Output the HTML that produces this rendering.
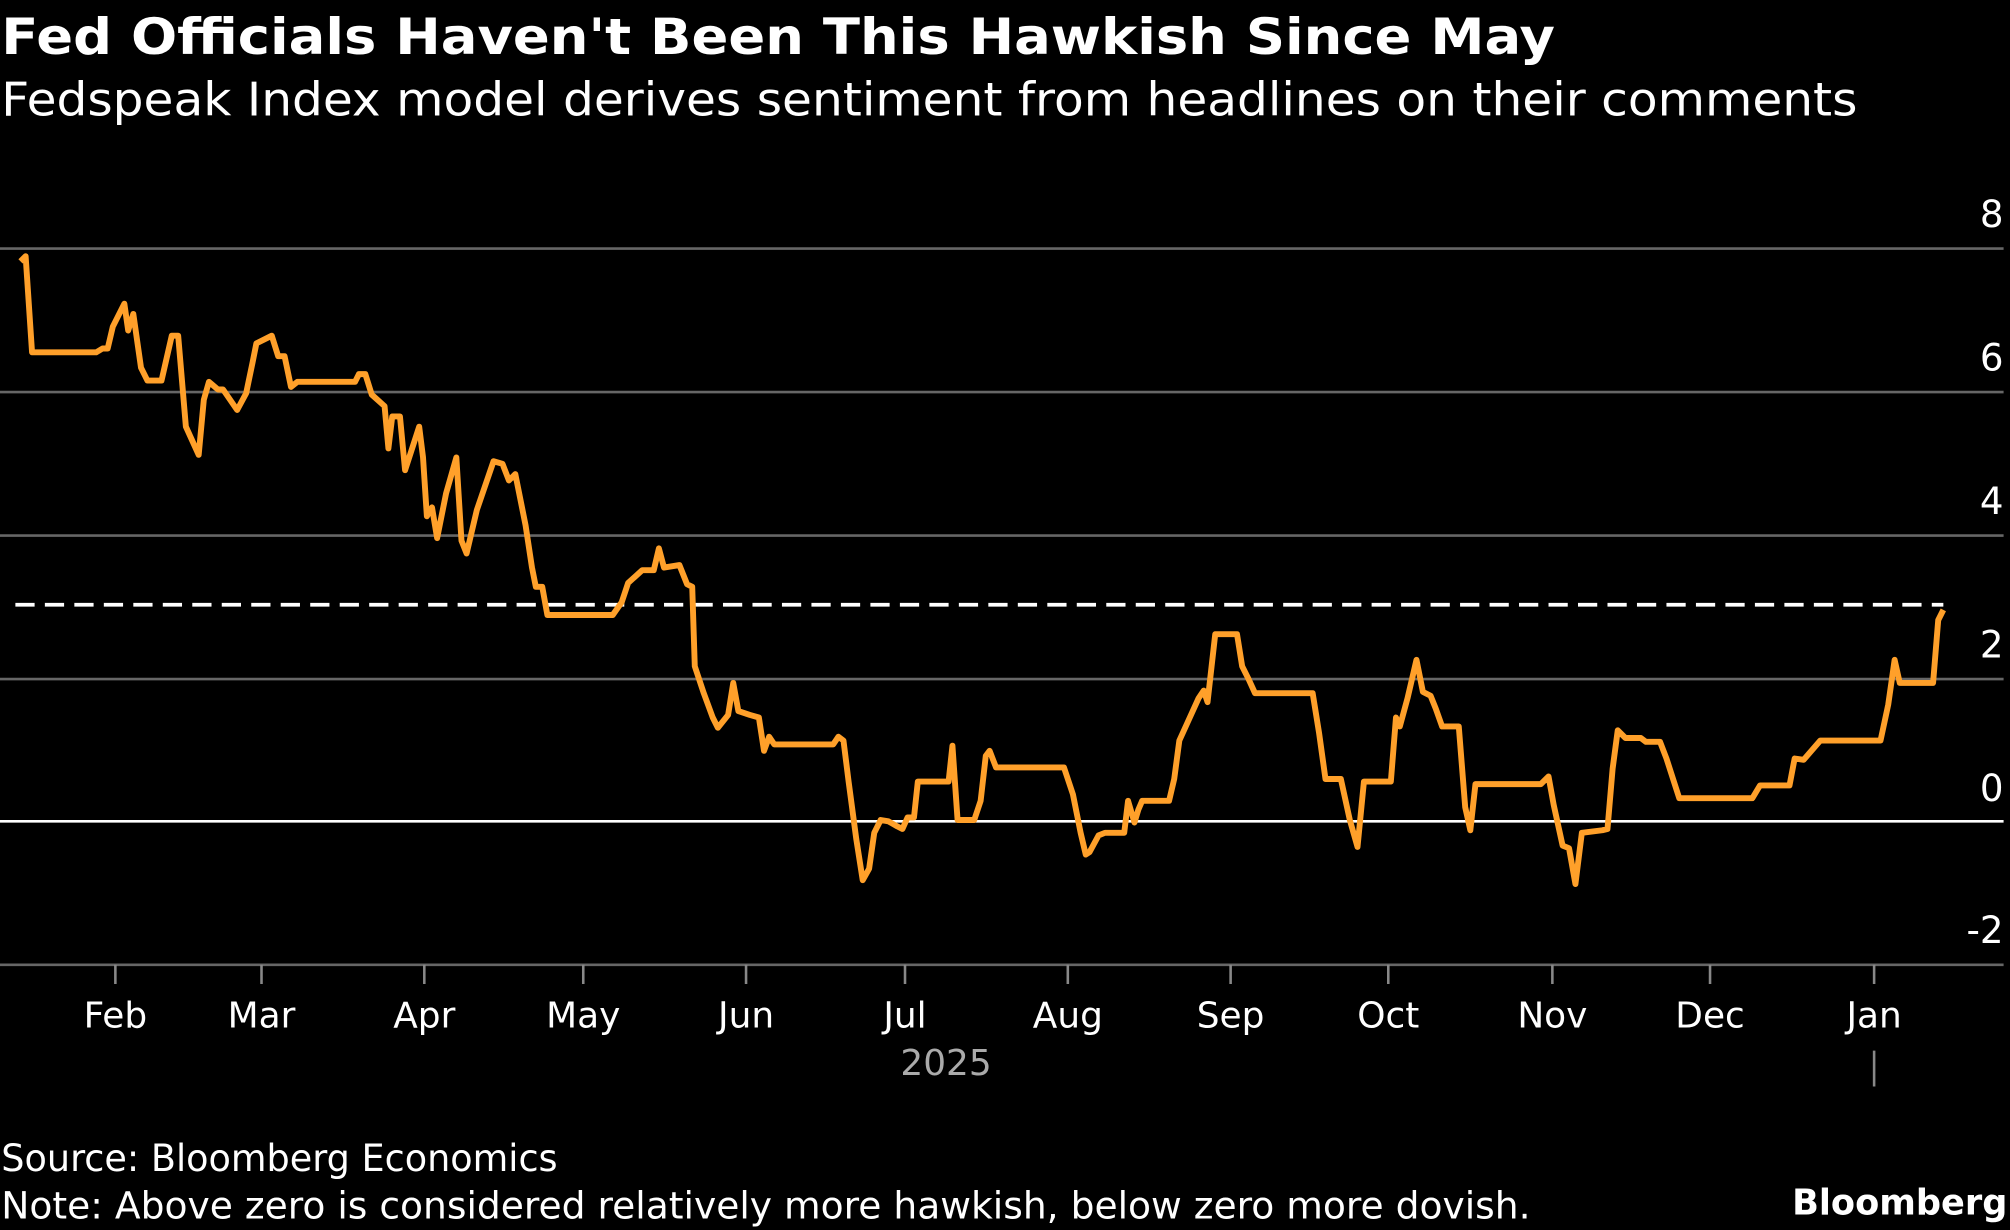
<!DOCTYPE html>
<html><head><meta charset="utf-8"><style>
html,body{margin:0;padding:0;background:#000;}
svg{display:block;}
text{font-family:"DejaVu Sans","Liberation Sans",sans-serif;fill:#fff;}
</style></head><body>
<svg width="2010" height="1230" viewBox="0 0 1568 960" preserveAspectRatio="none">
<rect width="1568" height="960" fill="#000"/>
<text x="1" y="42" font-size="39" font-weight="bold" textLength="1212" lengthAdjust="spacingAndGlyphs">Fed Officials Haven't Been This Hawkish Since May</text>
<text x="1" y="90" font-size="36" textLength="1448" lengthAdjust="spacingAndGlyphs">Fedspeak Index model derives sentiment from headlines on their comments</text>
<g stroke="#666" stroke-width="2">
<line x1="0" y1="194" x2="1563" y2="194"/>
<line x1="0" y1="306" x2="1563" y2="306"/>
<line x1="0" y1="418" x2="1563" y2="418"/>
<line x1="0" y1="530" x2="1563" y2="530"/>
<line x1="0" y1="753" x2="1563" y2="753"/>
</g>
<line x1="0" y1="641" x2="1563" y2="641" stroke="#fff" stroke-width="2"/>
<g font-size="29" text-anchor="end">
<text x="1563" y="177">8</text><text x="1563" y="289">6</text><text x="1563" y="401">4</text>
<text x="1563" y="513">2</text><text x="1563" y="625">0</text><text x="1563" y="736">-2</text>
</g>
<g stroke="#888" stroke-width="2">
<line x1="90" y1="753" x2="90" y2="768"/><line x1="204" y1="753" x2="204" y2="768"/>
<line x1="331" y1="753" x2="331" y2="768"/><line x1="455" y1="753" x2="455" y2="768"/>
<line x1="582" y1="753" x2="582" y2="768"/><line x1="706" y1="753" x2="706" y2="768"/>
<line x1="833" y1="753" x2="833" y2="768"/><line x1="960" y1="753" x2="960" y2="768"/>
<line x1="1083" y1="753" x2="1083" y2="768"/><line x1="1211" y1="753" x2="1211" y2="768"/>
<line x1="1334" y1="753" x2="1334" y2="768"/><line x1="1462" y1="753" x2="1462" y2="768"/>
<line x1="1462" y1="820" x2="1462" y2="848"/>
</g>
<g font-size="28" text-anchor="middle">
<text x="90" y="802">Feb</text><text x="204" y="802">Mar</text><text x="331" y="802">Apr</text>
<text x="455" y="802">May</text><text x="582" y="802">Jun</text><text x="706" y="802">Jul</text>
<text x="833" y="802">Aug</text><text x="960" y="802">Sep</text><text x="1083" y="802">Oct</text>
<text x="1211" y="802">Nov</text><text x="1334" y="802">Dec</text><text x="1462" y="802">Jan</text>
<text x="738" y="839" style="fill:#aaa">2025</text>
</g>
<line x1="12" y1="472" x2="1516" y2="472" stroke="#fff" stroke-width="3" stroke-dasharray="15,8"/>
<polyline fill="none" stroke="#ffa02a" stroke-width="4.6" stroke-linejoin="round" points="16,204 20,200 25,275 75,275 80,272 84,272 88,255 97,237 100,258 104,245 110,287 115,297 126,297 134,262 139,262 145,333 155,355 159,312 163,298 170,304 174,304 185,320 192,307 197,283 200,268 212,262 217,278 222,278 227,302 232,298 277,298 280,292 285,292 290,308 300,317 303,350 306,325 312,325 316,367 327,333 330,357 333,403 337,396 341,420 348,385 356,357 360,422 364,432 372,398 385,360 392,362 397,375 402,370 410,410 415,443 418,458 423,458 427,480 478,480 485,470 490,455 501,445 510,445 514,428 518,443 530,441 536,456 540,458 542,520 549,541 556,560 560,568 568,558 572,533 576,555 585,558 592,560 596,586 600,575 604,581 650,581 654,575 658,578 662,610 668,655 673,687 678,678 682,650 687,640 693,641 700,645 704,647 708,638 713,638 716,610 740,610 743,582 747,640 760,640 765,625 769,590 772,586 777,599 830,599 837,620 843,650 847,667 850,665 857,652 862,650 877,650 880,625 885,642 888,632 891,625 912,625 916,608 920,578 935,545 939,539 942,548 948,495 965,495 969,520 974,530 979,541 1024,541 1029,572 1034,608 1046,608 1053,640 1059,661 1064,610 1085,610 1089,560 1092,567 1098,545 1105,515 1110,540 1116,543 1120,553 1125,567 1138,567 1143,630 1147,648 1151,612 1202,612 1208,606 1212,628 1219,660 1224,662 1229,690 1234,650 1250,648 1254,647 1258,600 1262,570 1268,576 1280,576 1284,579 1295,579 1300,592 1310,623 1367,623 1373,613 1396,613 1400,592 1407,593 1420,578 1467,578 1473,550 1478,515 1482,533 1508,533 1512,484 1516,476"/>
<text x="1" y="914" font-size="29" textLength="434" lengthAdjust="spacingAndGlyphs">Source: Bloomberg Economics</text>
<text x="1" y="951" font-size="29" textLength="1193" lengthAdjust="spacingAndGlyphs">Note: Above zero is considered relatively more hawkish, below zero more dovish.</text>
<text x="1566" y="948" font-size="28" font-weight="bold" text-anchor="end" textLength="168" lengthAdjust="spacingAndGlyphs">Bloomberg</text>
</svg>
</body></html>
